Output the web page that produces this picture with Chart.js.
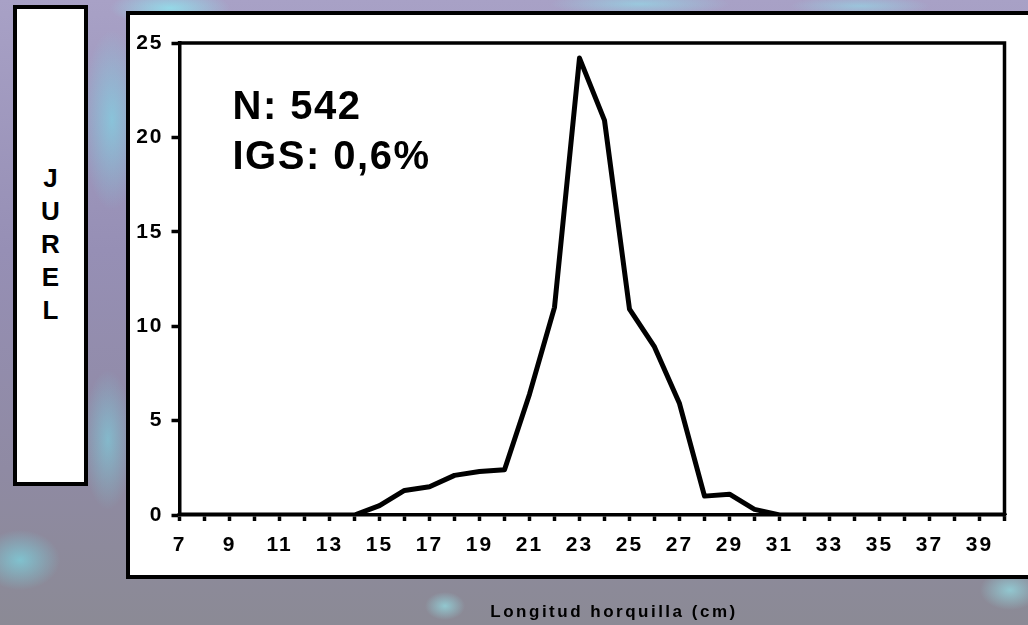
<!DOCTYPE html>
<html>
<head>
<meta charset="utf-8">
<script src="https://cdn.jsdelivr.net/npm/chart.js@4.4.1/dist/chart.umd.min.js"></script>
<style>
  html, body { margin: 0; padding: 0; width: 1028px; height: 625px; overflow: hidden; }
  body {
    position: relative;
    font-family: "Liberation Sans", Arial, sans-serif;
    background:
      radial-gradient(ellipse 60px 18px at 170px 8px, rgba(140,240,245,.7), rgba(140,240,245,0)),
      radial-gradient(ellipse 90px 12px at 640px 4px, rgba(140,240,245,.5), rgba(140,240,245,0)),
      radial-gradient(ellipse 70px 10px at 860px 6px, rgba(140,240,245,.45), rgba(140,240,245,0)),
      radial-gradient(ellipse 30px 90px at 112px 120px, rgba(120,230,240,.55), rgba(120,230,240,0)),
      radial-gradient(ellipse 25px 70px at 108px 440px, rgba(120,230,240,.5), rgba(120,230,240,0)),
      radial-gradient(ellipse 40px 30px at 20px 560px, rgba(120,230,240,.6), rgba(120,230,240,0)),
      radial-gradient(ellipse 20px 14px at 445px 606px, rgba(150,240,245,.6), rgba(150,240,245,0)),
      radial-gradient(ellipse 30px 20px at 1010px 590px, rgba(150,240,245,.6), rgba(150,240,245,0)),
      linear-gradient(180deg, #a8a1c6 0%, #968fb5 40%, #8f8aa3 75%, #8b8a95 100%);
  }
  #rotulo {
    position: absolute; left: 13px; top: 5px; width: 67px;
    background: #fff; border: 4px solid #000;
    text-align: center; font-weight: bold; font-size: 26px; line-height: 33px;
    padding-top: 153px; height: 320px;
  }
  #marco {
    position: absolute; left: 126px; top: 11px; width: 940px; height: 560px;
    background: #fff; border: 4px solid #000;
  }
  canvas { position: absolute; left: 0; top: 0; }
</style>
</head>
<body>
<div id="rotulo">J<br>U<br>R<br>E<br>L</div>
<div id="marco"></div>
<canvas id="grafico" width="1028" height="625"></canvas>
<script>
// tallas (cm) y frecuencia (%)
const tallas = ['7','8','9','10','11','12','13','14','15','16','17','18','19','20','21','22','23',
                '24','25','26','27','28','29','30','31','32','33','34','35','36','37','38','39','40'];
const frecuencia = [0, 0, 0, 0, 0, 0, 0, 0, 0.5, 1.3, 1.5, 2.1, 2.3, 2.4, 6.4, 11.0, 24.2,
                    20.9, 10.9, 8.9, 5.9, 1.0, 1.1, 0.3, 0, 0, 0, 0, 0, 0, 0, 0, 0, 0];
const ticksY = [0, 5, 10, 15, 20, 25];
const anotacion = ['N: 542', 'IGS: 0,6%'];
const tituloX = 'Longitud horquilla (cm)';

const fuente = '"Liberation Sans", Arial, sans-serif';

// espaciado entre letras para los números de los ejes
const espaciado = {
  id: 'espaciado',
  beforeDraw(chart) { chart.ctx.letterSpacing = '2px'; }
};

const extras = {
  id: 'extras',
  afterDraw(chart) {
    const { ctx, chartArea: a } = chart;
    ctx.save();
    ctx.strokeStyle = '#000'; ctx.lineWidth = 3.5; ctx.lineCap = 'square';
    ctx.beginPath();
    ctx.moveTo(a.left, a.top); ctx.lineTo(a.right, a.top); ctx.lineTo(a.right, a.bottom);
    ctx.stroke();

    ctx.fillStyle = '#000';
    ctx.textAlign = 'left'; ctx.textBaseline = 'alphabetic';
    ctx.font = 'bold 40px ' + fuente;
    ctx.letterSpacing = '1.5px';
    anotacion.forEach((t, i) => ctx.fillText(t, a.left + 53, a.top + 76 + i * 50));

    ctx.font = 'bold 17px ' + fuente;
    ctx.letterSpacing = '2.5px';
    ctx.textAlign = 'center'; ctx.textBaseline = 'middle';
    ctx.fillText(tituloX, (a.left + a.right) / 2 + 22, 612);
    ctx.restore();
  }
};

new Chart(document.getElementById('grafico'), {
  type: 'line',
  data: {
    labels: tallas,
    datasets: [{
      data: frecuencia,
      borderColor: '#000',
      borderWidth: 5,
      borderJoinStyle: 'round',
      borderCapStyle: 'round',
      pointRadius: 0,
      tension: 0,
      fill: false
    }]
  },
  options: {
    responsive: false,
    animation: false,
    layout: { padding: { left: 120, top: 43, right: 23.5, bottom: 0 } },
    plugins: { legend: { display: false }, tooltip: { enabled: false } },
    scales: {
      x: {
        offset: false,
        afterFit(s) { s.height = 110; },
        border: { display: true, color: '#000', width: 3.5 },
        grid: { drawOnChartArea: false, drawTicks: true, tickLength: 6, tickWidth: 3.5, tickColor: '#000' },
        ticks: {
          autoSkip: false, maxRotation: 0, padding: 12,
          color: '#000', font: { family: fuente, size: 21, weight: 'bold' },
          callback: (v, i) => (i % 2 === 0 ? tallas[i] : '')
        }
      },
      y: {
        min: 0, max: 25,
        afterFit(s) { s.width = 59.5; },
        afterBuildTicks(s) { s.ticks = ticksY.map(v => ({ value: v })); },
        border: { display: true, color: '#000', width: 3.5 },
        grid: { drawOnChartArea: false, drawTicks: true, tickLength: 8, tickWidth: 3.5, tickColor: '#000' },
        ticks: {
          padding: 8,
          color: '#000', font: { family: fuente, size: 21, weight: 'bold' }
        }
      }
    }
  },
  plugins: [espaciado, extras]
});
</script>
</body>
</html>
